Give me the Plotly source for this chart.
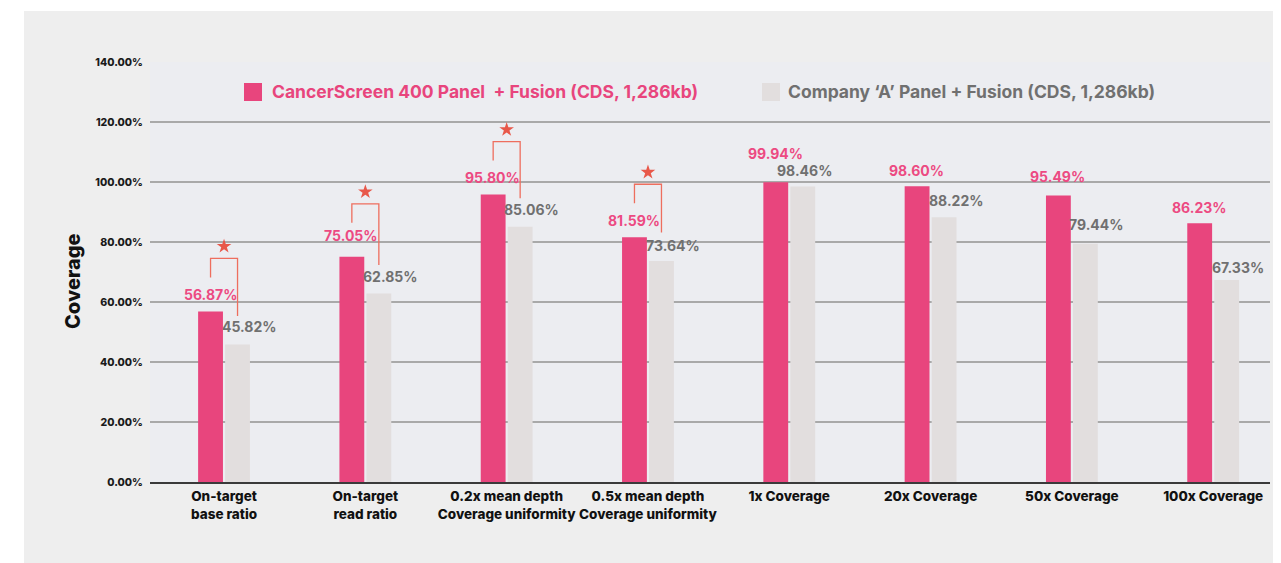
import plotly.graph_objects as go

# ---------------- data ----------------
categories = [
    "On-target<br>base ratio",
    "On-target<br>read ratio",
    "0.2x mean depth<br>Coverage uniformity",
    "0.5x mean depth<br>Coverage uniformity",
    "1x Coverage",
    "20x Coverage",
    "50x Coverage",
    "100x Coverage",
]
cancerscreen = [56.87, 75.05, 95.80, 81.59, 99.94, 98.60, 95.49, 86.23]
company_a = [45.82, 62.85, 85.06, 73.64, 98.46, 88.22, 79.44, 67.33]
significant = [True, True, True, True, False, False, False, False]
y_ticks = [0, 20, 40, 60, 80, 100, 120, 140]
series_names = ["CancerScreen 400 Panel  + Fusion (CDS, 1,286kb)",
                "Company ‘A’ Panel + Fusion (CDS, 1,286kb)"]

# ---------------- styles ----------------
PINK = "#E8457D"
PINK_TXT = "#EC4A82"
GRAY_BAR = "#E2DEDE"
GRAY_TXT = "#707070"
BRACKET = "#EE6E5E"
STAR = "#E8584A"
FONT = "Inter"

# page geometry (the html body adds an 8px margin)
OFF = 8
W, H = 1281 - OFF, 563 - OFF
L, R, T, B = 142, 11, 54, 81
PW = W - L - R
PH = H - T - B
X_RANGE = [-0.524, 7.402]
CAT_PX = PW / (X_RANGE[1] - X_RANGE[0])


def px_x(px):
    return (px - OFF - L) / PW


def px_y(py):
    return (H - B - (py - OFF)) / PH


fig = go.Figure()
fig.add_trace(go.Bar(x=categories, y=cancerscreen, name=series_names[0],
                     marker=dict(color=PINK, line=dict(width=0)), showlegend=False))
fig.add_trace(go.Bar(x=categories, y=company_a, name=series_names[1],
                     marker=dict(color=GRAY_BAR, line=dict(width=0)), showlegend=False))

annotations = []
shapes = []

# value labels
pink_yshift = [17, 21, 17, 17, 29, 16, 19, 16]
gray_xshift = [25, 25, 25, 25, 15, 25, 25, 25]
gray_yshift = [18, 17, 17, 16, 16, 17, 19, 13]
for i, c in enumerate(categories):
    annotations.append(dict(x=c, y=cancerscreen[i], xref="x", yref="y",
                            text=f"{cancerscreen[i]:.2f}%", showarrow=False,
                            xshift=-14, yshift=pink_yshift[i],
                            xanchor="center", yanchor="middle",
                            font=dict(family=FONT, size=14, color=PINK_TXT, weight=700)))
    annotations.append(dict(x=c, y=company_a[i], xref="x", yref="y",
                            text=f"{company_a[i]:.2f}%", showarrow=False,
                            xshift=gray_xshift[i], yshift=gray_yshift[i],
                            xanchor="center", yanchor="middle",
                            font=dict(family=FONT, size=14, color=GRAY_TXT, weight=700)))

# significance brackets
half = 13.5 / CAT_PX  # bar-centre offset in category units
unit = 20 / 60  # percent per pixel (20% = 60 px)
star_x, star_y = [], []
for i, sig in enumerate(significant):
    if not sig:
        continue
    top = cancerscreen[i] + 53 * unit
    left_bot = top - 19 * unit
    right_bot = company_a[i] + 28.5 * unit
    x0 = i - half
    x1 = i + half
    shapes.append(dict(type="path", xref="x", yref="y",
                       path=f"M {x0},{left_bot} L {x0},{top} L {x1},{top} L {x1},{right_bot}",
                       line=dict(color=BRACKET, width=1.3)))
    star_x.append(categories[i])
    star_y.append(top + 12 * unit)

fig.add_trace(go.Scatter(x=star_x, y=star_y, mode="markers", showlegend=False,
                         marker=dict(symbol="star", size=11, color=STAR, line=dict(width=0)),
                         hoverinfo="skip"))

# outer white border (paper is the gray panel)
shapes.append(dict(type="rect", xref="paper", yref="paper", layer="below",
                   x0=px_x(0), x1=px_x(24), y0=px_y(600), y1=px_y(0),
                   fillcolor="white", line=dict(width=0)))
shapes.append(dict(type="rect", xref="paper", yref="paper", layer="below",
                   x0=px_x(0), x1=px_x(1300), y0=px_y(11), y1=px_y(0),
                   fillcolor="white", line=dict(width=0)))

# manual legend
shapes.append(dict(type="rect", xref="paper", yref="paper",
                   x0=px_x(244), x1=px_x(262), y0=px_y(101), y1=px_y(83),
                   fillcolor=PINK, line=dict(width=0)))
shapes.append(dict(type="rect", xref="paper", yref="paper",
                   x0=px_x(762), x1=px_x(780), y0=px_y(101), y1=px_y(83),
                   fillcolor=GRAY_BAR, line=dict(width=0)))
annotations.append(dict(x=px_x(270), y=px_y(92), xref="paper", yref="paper",
                        text=series_names[0], showarrow=False, xanchor="left", yanchor="middle",
                        font=dict(family=FONT, size=17.5, color=PINK, weight=700)))
annotations.append(dict(x=px_x(786), y=px_y(92), xref="paper", yref="paper",
                        text=series_names[1], showarrow=False, xanchor="left", yanchor="middle",
                        font=dict(family=FONT, size=17.5, color=GRAY_TXT, weight=700)))

# y-axis title
annotations.append(dict(x=px_x(73), y=px_y(282), xref="paper", yref="paper",
                        text="Coverage", showarrow=False, textangle=-90,
                        xanchor="center", yanchor="middle",
                        font=dict(family=FONT, size=20, color="#111111", weight=800)))

fig.update_layout(
    width=W, height=H,
    margin=dict(l=L, r=R, t=T, b=B, autoexpand=False),
    paper_bgcolor="#EEEEEE",
    plot_bgcolor="#ECEDF1",
    barmode="group",
    bargap=1 - 54 / CAT_PX,
    bargroupgap=0.08,
    font=dict(family=FONT),
    showlegend=False,
    annotations=annotations,
    shapes=shapes,
    xaxis=dict(
        type="category",
        range=X_RANGE,
        showgrid=False,
        showline=True, linecolor="#3A3A3A", linewidth=1.6,
        ticks="outside", ticklen=1, tickcolor="rgba(0,0,0,0)",
        tickangle=0,
        tickfont=dict(family=FONT, size=13.5, color="#111111", weight=800),
        fixedrange=True,
    ),
    yaxis=dict(
        range=[0, 140],
        tickvals=y_ticks,
        ticktext=[f"{v:.2f}%" for v in y_ticks],
        showgrid=True, gridcolor="#A9A9A9", gridwidth=1.5,
        zeroline=False, showline=False,
        ticks="outside", ticklen=4, tickcolor="rgba(0,0,0,0)",
        tickfont=dict(family=FONT, size=10.5, color="#1A1A1A", weight=800),
        fixedrange=True,
    ),
)

fig.write_html("out.html")
